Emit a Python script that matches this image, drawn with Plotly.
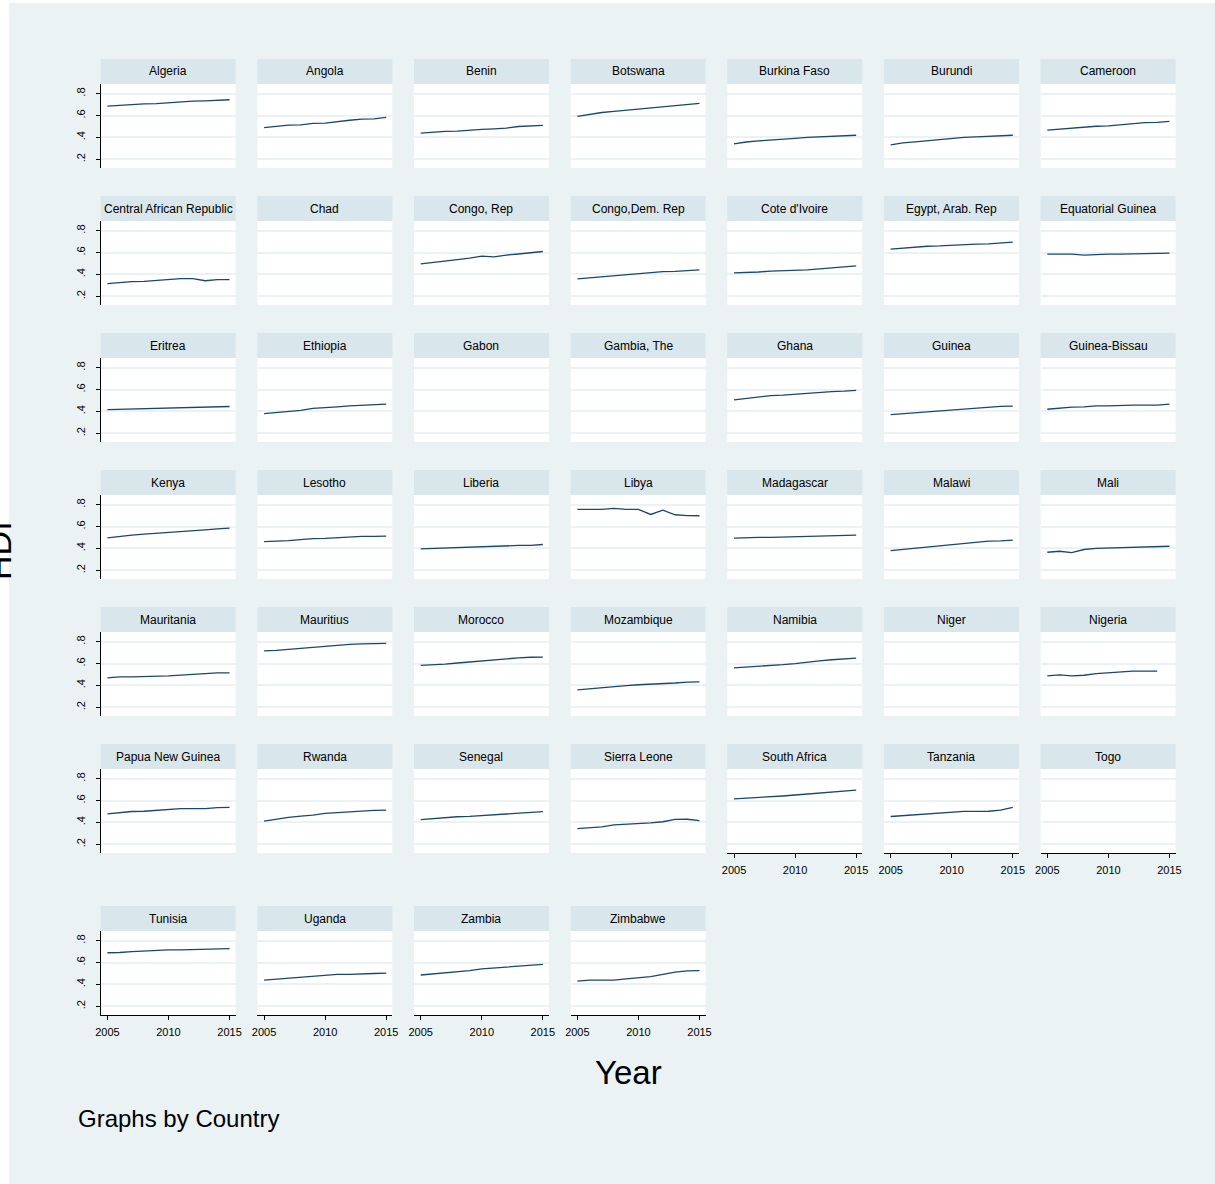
import plotly.graph_objects as go

# Human Development Index by country, 2005-2015
years = [2005, 2006, 2007, 2008, 2009, 2010, 2011, 2012, 2013, 2014, 2015]

algeria = [0.686, 0.694, 0.702, 0.707, 0.709, 0.718, 0.724, 0.732, 0.735, 0.743, 0.745]
angola = [0.490, 0.500, 0.512, 0.514, 0.528, 0.530, 0.546, 0.557, 0.567, 0.570, 0.583]
benin = [0.440, 0.450, 0.455, 0.458, 0.468, 0.473, 0.478, 0.485, 0.500, 0.502, 0.510]
botswana = [0.592, 0.610, 0.628, 0.638, 0.648, 0.660, 0.672, 0.682, 0.692, 0.702, 0.711]
burkina_faso = [0.340, 0.358, 0.368, 0.378, 0.386, 0.392, 0.400, 0.404, 0.410, 0.415, 0.420]
burundi = [0.331, 0.350, 0.360, 0.370, 0.385, 0.393, 0.400, 0.405, 0.412, 0.416, 0.420]
cameroon = [0.466, 0.476, 0.486, 0.496, 0.502, 0.506, 0.515, 0.530, 0.536, 0.538, 0.546]
central_african_republic = [0.316, 0.325, 0.334, 0.336, 0.344, 0.352, 0.362, 0.362, 0.342, 0.352, 0.353]
chad = []
congo_rep = [0.497, 0.508, 0.524, 0.535, 0.550, 0.568, 0.560, 0.577, 0.587, 0.597, 0.610]
congo_dem_rep = [0.359, 0.368, 0.378, 0.388, 0.398, 0.408, 0.418, 0.425, 0.427, 0.435, 0.442]
cote_divoire = [0.414, 0.416, 0.422, 0.430, 0.432, 0.440, 0.442, 0.450, 0.460, 0.469, 0.478]
egypt = [0.632, 0.641, 0.650, 0.658, 0.661, 0.668, 0.670, 0.678, 0.680, 0.688, 0.696]
equatorial_guinea = [0.586, 0.586, 0.585, 0.577, 0.584, 0.585, 0.585, 0.587, 0.594, 0.594, 0.595]
eritrea = [0.417, 0.420, 0.420, 0.428, 0.430, 0.430, 0.436, 0.437, 0.445, 0.445, 0.445]
ethiopia = [0.380, 0.390, 0.400, 0.410, 0.428, 0.432, 0.442, 0.450, 0.457, 0.460, 0.466]
gabon = []
gambia = []
ghana = [0.506, 0.520, 0.537, 0.545, 0.549, 0.558, 0.568, 0.575, 0.582, 0.585, 0.592]
guinea = [0.371, 0.380, 0.390, 0.398, 0.402, 0.410, 0.420, 0.430, 0.440, 0.446, 0.448]
guinea_bissau = [0.420, 0.432, 0.440, 0.442, 0.450, 0.450, 0.456, 0.457, 0.457, 0.458, 0.466]
kenya = [0.497, 0.512, 0.522, 0.531, 0.540, 0.549, 0.558, 0.566, 0.570, 0.578, 0.586]
lesotho = [0.463, 0.465, 0.472, 0.481, 0.490, 0.492, 0.500, 0.508, 0.510, 0.510, 0.512]
liberia = [0.396, 0.400, 0.402, 0.410, 0.416, 0.420, 0.424, 0.426, 0.427, 0.428, 0.436]
libya = [0.757, 0.757, 0.757, 0.766, 0.757, 0.757, 0.711, 0.751, 0.708, 0.700, 0.699]
madagascar = [0.494, 0.500, 0.501, 0.501, 0.503, 0.510, 0.511, 0.512, 0.518, 0.520, 0.521]
malawi = [0.380, 0.390, 0.400, 0.415, 0.425, 0.436, 0.446, 0.456, 0.466, 0.469, 0.475]
mali = [0.365, 0.374, 0.362, 0.390, 0.400, 0.404, 0.410, 0.410, 0.411, 0.415, 0.420]
mauritania = [0.469, 0.478, 0.478, 0.480, 0.485, 0.487, 0.494, 0.502, 0.512, 0.514, 0.515]
mauritius = [0.717, 0.720, 0.730, 0.740, 0.750, 0.760, 0.768, 0.776, 0.780, 0.782, 0.785]
morocco = [0.583, 0.586, 0.595, 0.605, 0.615, 0.625, 0.635, 0.645, 0.652, 0.658, 0.659]
mozambique = [0.359, 0.370, 0.380, 0.390, 0.398, 0.406, 0.410, 0.415, 0.422, 0.430, 0.432]
namibia = [0.561, 0.568, 0.570, 0.580, 0.590, 0.600, 0.615, 0.625, 0.635, 0.642, 0.650]
niger = []
nigeria = [0.488, 0.497, 0.488, 0.493, 0.508, 0.515, 0.528, 0.530, 0.530, 0.530, None]
papua_new_guinea = [0.478, 0.488, 0.500, 0.502, 0.510, 0.518, 0.526, 0.526, 0.527, 0.536, 0.537]
rwanda = [0.411, 0.432, 0.447, 0.457, 0.466, 0.482, 0.491, 0.498, 0.503, 0.510, 0.512]
senegal = [0.426, 0.436, 0.446, 0.452, 0.456, 0.462, 0.470, 0.478, 0.487, 0.491, 0.498]
sierra_leone = [0.344, 0.352, 0.360, 0.377, 0.381, 0.387, 0.395, 0.406, 0.427, 0.429, 0.417]
south_africa = [0.616, 0.622, 0.626, 0.634, 0.642, 0.651, 0.660, 0.669, 0.678, 0.688, 0.696]
tanzania = [0.454, 0.462, 0.471, 0.480, 0.490, 0.496, 0.501, 0.501, 0.502, 0.512, 0.537]
togo = []
tunisia = [0.690, 0.692, 0.701, 0.708, 0.710, 0.716, 0.716, 0.718, 0.725, 0.725, 0.727]
uganda = [0.440, 0.449, 0.457, 0.466, 0.475, 0.484, 0.492, 0.492, 0.493, 0.500, 0.504]
zambia = [0.486, 0.496, 0.503, 0.517, 0.527, 0.542, 0.551, 0.561, 0.571, 0.580, 0.584]
zimbabwe = [0.431, 0.440, 0.440, 0.440, 0.450, 0.462, 0.471, 0.492, 0.512, 0.524, 0.527]

countries = [
    "Algeria", "Angola", "Benin", "Botswana", "Burkina Faso", "Burundi", "Cameroon",
    "Central African Republic", "Chad", "Congo, Rep", "Congo,Dem. Rep", "Cote d'Ivoire",
    "Egypt, Arab. Rep", "Equatorial Guinea",
    "Eritrea", "Ethiopia", "Gabon", "Gambia, The", "Ghana", "Guinea", "Guinea-Bissau",
    "Kenya", "Lesotho", "Liberia", "Libya", "Madagascar", "Malawi", "Mali",
    "Mauritania", "Mauritius", "Morocco", "Mozambique", "Namibia", "Niger", "Nigeria",
    "Papua New Guinea", "Rwanda", "Senegal", "Sierra Leone", "South Africa", "Tanzania", "Togo",
    "Tunisia", "Uganda", "Zambia", "Zimbabwe",
]
hdi = [
    algeria, angola, benin, botswana, burkina_faso, burundi, cameroon,
    central_african_republic, chad, congo_rep, congo_dem_rep, cote_divoire, egypt,
    equatorial_guinea,
    eritrea, ethiopia, gabon, gambia, ghana, guinea, guinea_bissau,
    kenya, lesotho, liberia, libya, madagascar, malawi, mali,
    mauritania, mauritius, morocco, mozambique, namibia, niger, nigeria,
    papua_new_guinea, rwanda, senegal, sierra_leone, south_africa, tanzania, togo,
    tunisia, uganda, zambia, zimbabwe,
]
x_ticks = [2005, 2010, 2015]
y_ticks = [0.2, 0.4, 0.6, 0.8]
y_ticktext = [".2", ".4", ".6", ".8"]

# ---- page geometry (pixels on the page) ----
W, H = 1215, 1184
# the drawing surface sits 8px in from the left page edge and is 1199px wide
X_OFF, PAPER_W = 8.0, 1199.0
NCOL = 7
COL_X0, COL_PITCH, COL_W = 103.3, 156.0, 134.4
STRIP_H, PLOT_H = 25.0, 84.0
ROW_TOP = [59, 196, 333, 470, 607, 744, 906]

BG = "#EAF2F3"
STRIP = "#D9E6EB"
GRID = "#EAF2F3"
LINE = "#1A476F"
FONT = "Liberation Sans, Arial, sans-serif"


def px_x(v):
    return (v - X_OFF) / PAPER_W


def px_y(v):
    return 1 - v / H


n = len(countries)
# bottom-most panel in each column carries the year axis
last_row_of_col = {}
for i in range(n):
    r, c = divmod(i, NCOL)
    last_row_of_col[c] = max(last_row_of_col.get(c, 0), r)

fig = go.Figure()
layout = dict(
    width=W, height=H, autosize=False,
    margin=dict(l=0, r=0, t=0, b=0),
    paper_bgcolor=BG, plot_bgcolor="white",
    showlegend=False,
    font=dict(family=FONT, color="black"),
)
shapes = [
    # thin white frame along the left and top edges
    dict(type="rect", xref="paper", yref="paper", x0=-0.05, x1=px_x(12), y0=0, y1=1,
         fillcolor="white", line=dict(width=0), layer="below"),
    dict(type="rect", xref="paper", yref="paper", x0=-0.05, x1=1.05, y0=px_y(3), y1=1,
         fillcolor="white", line=dict(width=0), layer="below"),
]
annotations = []

for i, (name, vals) in enumerate(zip(countries, hdi)):
    r, c = divmod(i, NCOL)
    k = "" if i == 0 else str(i + 1)
    x0 = COL_X0 + c * COL_PITCH
    x1 = x0 + COL_W
    s0 = ROW_TOP[r]
    p0 = s0 + STRIP_H
    p1 = p0 + PLOT_H
    bottom = r == last_row_of_col[c]
    left = c == 0

    fig.add_trace(go.Scatter(
        x=years[:len(vals)], y=vals, mode="lines",
        line=dict(color=LINE, width=1.3),
        xaxis="x" + k, yaxis="y" + k, connectgaps=False,
        hoverinfo="x+y", name=name,
    ))

    layout["xaxis" + k] = dict(
        domain=[px_x(x0), px_x(x1)], anchor="y" + k,
        range=[2004.45, 2015.5], tickvals=x_ticks,
        showgrid=False, zeroline=False,
        showline=bottom, linecolor="black", linewidth=1,
        ticks="outside" if bottom else "", ticklen=4, tickcolor="black",
        showticklabels=bottom, tickfont=dict(size=11, family=FONT, color="black"),
        ticklabelstandoff=3,
        fixedrange=True,
    )
    layout["yaxis" + k] = dict(
        domain=[px_y(p1), px_y(p0)], anchor="x" + k,
        range=[0.12, 0.889], tickvals=y_ticks, ticktext=y_ticktext,
        showgrid=True, gridcolor=GRID, gridwidth=1.5, zeroline=False,
        showline=left, linecolor="black", linewidth=1,
        ticks="outside" if left else "", ticklen=4, tickcolor="black",
        showticklabels=left, tickangle=-90,
        tickfont=dict(size=11, family=FONT, color="black"),
        ticklabelstandoff=6,
        fixedrange=True,
    )

    # title strip above the panel
    shapes.append(dict(
        type="rect", xref="paper", yref="paper",
        x0=px_x(x0), x1=px_x(x1), y0=px_y(p0), y1=px_y(s0),
        fillcolor=STRIP, line=dict(width=0), layer="below",
    ))
    annotations.append(dict(
        text=name, xref="paper", yref="paper",
        x=px_x((x0 + x1) / 2), y=px_y(s0 + STRIP_H / 2),
        xanchor="center", yanchor="middle", showarrow=False,
        font=dict(size=12, family=FONT, color="black"),
    ))

annotations += [
    dict(text="Year", xref="paper", yref="paper", x=px_x(629), y=px_y(1072),
         xanchor="center", yanchor="middle", showarrow=False,
         font=dict(size=33, family=FONT, color="black")),
    dict(text="Graphs by Country", xref="paper", yref="paper", x=px_x(79), y=px_y(1118),
         xanchor="left", yanchor="middle", showarrow=False,
         font=dict(size=24, family=FONT, color="black")),
    dict(text="HDI", xref="paper", yref="paper", x=px_x(2), y=px_y(550),
         xanchor="center", yanchor="middle", showarrow=False, textangle=-90,
         font=dict(size=34, family=FONT, color="black")),
]

layout["shapes"] = shapes
layout["annotations"] = annotations
fig.update_layout(**layout)
fig.write_html("out.html")
